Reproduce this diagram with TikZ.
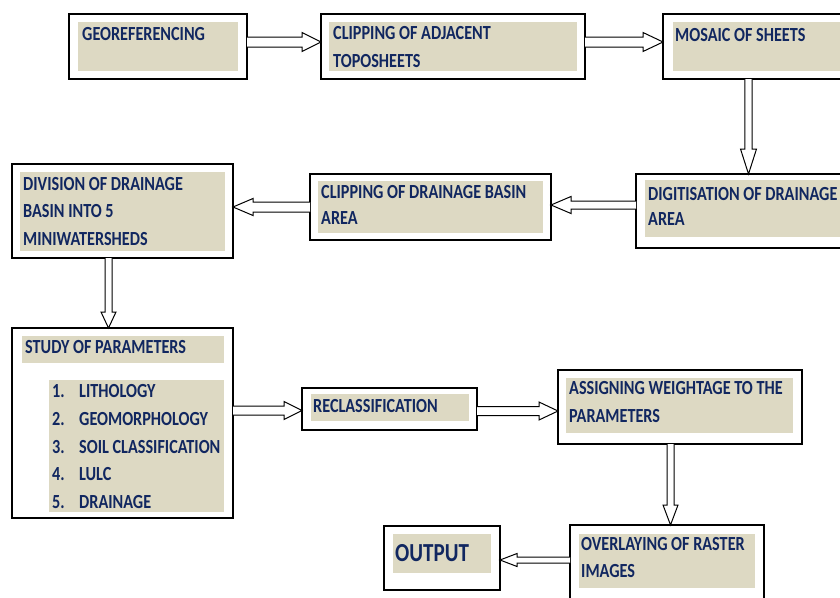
\documentclass[tikz,border=0pt]{standalone}
\usepackage{fontspec}
\setmainfont{Carlito}[FakeStretch=0.81]
\usetikzlibrary{calc}
\definecolor{navy}{HTML}{112760}
\definecolor{beige}{HTML}{DDD9C3}
\tikzset{
 box/.style={draw=black, line width=1.3pt, fill=white, inner sep=0pt, outer sep=0pt},
 innerfill/.style={fill=beige},
 txt/.style={anchor=base west, inner sep=0pt, text=navy, font=\bfseries\fontsize{20}{24}\selectfont},
 bigtxt/.style={txt, font=\bfseries\fontsize{26}{30}\selectfont},
 blockarr/.style={draw=black, line width=1pt, fill=white, line join=miter},
}
% right arrow: #1 from, #2 to, #3 y, #4 half shaft, #5 half head, #6 head length
\newcommand\arrR[6]{%
 \coordinate (as) at (#1.east |- 0,#3);
 \coordinate (ae) at (#2.west |- 0,#3);
 \draw[blockarr] ($(as)+(0,-#4)$) -- ($(ae)+(-#6,-#4)$) -- ($(ae)+(-#6,-#5)$) -- (ae) -- ($(ae)+(-#6,#5)$) -- ($(ae)+(-#6,#4)$) -- ($(as)+(0,#4)$);}
\newcommand\arrL[6]{%
 \coordinate (as) at (#1.west |- 0,#3);
 \coordinate (ae) at (#2.east |- 0,#3);
 \draw[blockarr] ($(as)+(0,-#4)$) -- ($(ae)+(#6,-#4)$) -- ($(ae)+(#6,-#5)$) -- (ae) -- ($(ae)+(#6,#5)$) -- ($(ae)+(#6,#4)$) -- ($(as)+(0,#4)$);}
\newcommand\arrD[6]{%
 \coordinate (as) at (#1.south -| #3,0);
 \coordinate (ae) at (#2.north -| #3,0);
 \draw[blockarr] ($(as)+(-#4,0)$) -- ($(ae)+(-#4,-#6)$) -- ($(ae)+(-#5,-#6)$) -- (ae) -- ($(ae)+(#5,-#6)$) -- ($(ae)+(#4,-#6)$) -- ($(as)+(#4,0)$);}
\begin{document}
\begin{tikzpicture}[x=1pt, y=-1pt]
\useasboundingbox (0,0) rectangle (840,597);
\fill[white] (0,0) rectangle (840,597);
\clip (0,0) rectangle (840,597);

% boxes
\node[box, minimum width=178pt, minimum height=65pt] (geo) at (158,46.5) {};
\fill[innerfill] (78,22) rectangle (238,71);
\node[txt] (geo-t) at (82,40.7) {GEOREFERENCING};

\node[box, minimum width=264pt, minimum height=65pt] (clipadj) at (453,46.5) {};
\fill[innerfill] (329,22) rectangle (577,71);
\node[txt] (clipadj-t1) at (333,39.5) {CLIPPING OF ADJACENT};
\node[txt] (clipadj-t2) at (333,67) {TOPOSHEETS};

\node[box, minimum width=237pt, minimum height=65pt] (mosaic) at (781.5,46.5) {};
\fill[innerfill] (673,22) rectangle (860,71);
\node[txt] (mosaic-t) at (675,41) {MOSAIC OF SHEETS};

\node[box, minimum width=264pt, minimum height=74pt] (digit) at (768,211) {};
\fill[innerfill] (645,180) rectangle (860,237);
\node[txt] (digit-t1) at (648,200) {DIGITISATION OF DRAINAGE};
\node[txt] (digit-t2) at (648,225) {AREA};

\node[box, minimum width=241pt, minimum height=66pt] (clipbasin) at (430.5,207) {};
\fill[innerfill] (318,181) rectangle (543,233);
\node[txt] (clipbasin-t1) at (321,198.5) {CLIPPING OF DRAINAGE BASIN};
\node[txt] (clipbasin-t2) at (321,224.5) {AREA};

\node[box, minimum width=221pt, minimum height=94pt] (div) at (122.5,211) {};
\fill[innerfill] (20,172) rectangle (225,251);
\node[txt] (div-t1) at (23,190) {DIVISION OF DRAINAGE};
\node[txt] (div-t2) at (23,217) {BASIN INTO 5};
\node[txt] (div-t3) at (23,245) {MINIWATERSHEDS};

\node[box, minimum width=221pt, minimum height=190pt] (study) at (122.5,423) {};
\fill[innerfill] (22,336) rectangle (224,363);
\fill[innerfill] (49,380) rectangle (224,512);
\node[txt] (study-t) at (25,353) {STUDY OF PARAMETERS};
\node[txt] (n1) at (52,397) {1.};
\node[txt] (i1) at (79,397) {LITHOLOGY};
\node[txt] (n2) at (52,425) {2.};
\node[txt] (i2) at (79,425) {GEOMORPHOLOGY};
\node[txt] (n3) at (52,453) {3.};
\node[txt] (i3) at (79,453) {SOIL CLASSIFICATION};
\node[txt] (n4) at (52,480) {4.};
\node[txt] (i4) at (79,480) {LULC};
\node[txt] (n5) at (52,508) {5.};
\node[txt] (i5) at (79,508) {DRAINAGE};

\node[box, minimum width=175pt, minimum height=42pt] (reclass) at (389.5,409) {};
\fill[innerfill] (311,394) rectangle (469,421);
\node[txt] (reclass-t) at (313,412) {RECLASSIFICATION};

\node[box, minimum width=244pt, minimum height=74pt] (assign) at (680,407) {};
\fill[innerfill] (566,378) rectangle (793,433);
\node[txt] (assign-t1) at (569,394) {ASSIGNING WEIGHTAGE TO THE};
\node[txt] (assign-t2) at (569,422) {PARAMETERS};

\node[box, minimum width=194pt, minimum height=115pt] (overlay) at (667,582.5) {};
\fill[innerfill] (579,534) rectangle (755,588);
\node[txt] (overlay-t1) at (581,550) {OVERLAYING OF RASTER};
\node[txt] (overlay-t2) at (581,577) {IMAGES};

\node[box, minimum width=116pt, minimum height=64pt] (output) at (442,558) {};
\fill[innerfill] (393,534) rectangle (491,573);
\node[bigtxt] (output-t) at (395,561) {OUTPUT};

% block arrows
\arrR{geo}{clipadj}{42}{5}{9.5}{19}
\arrR{clipadj}{mosaic}{42}{5}{9.5}{20}
\arrD{mosaic}{digit}{748.5}{3.7}{8}{25}
\arrL{digit}{clipbasin}{205}{4}{8.5}{20}
\arrL{clipbasin}{div}{207}{5}{8.5}{20}
\arrD{div}{study}{108.5}{3.5}{7.5}{16}
\arrR{study}{reclass}{410.5}{4.5}{9}{18}
\arrR{reclass}{assign}{411}{4.5}{9}{19}
\arrD{assign}{overlay}{670.5}{3.5}{7.5}{20}
\arrL{overlay}{output}{560}{3}{6.5}{17}
\end{tikzpicture}
\end{document}
